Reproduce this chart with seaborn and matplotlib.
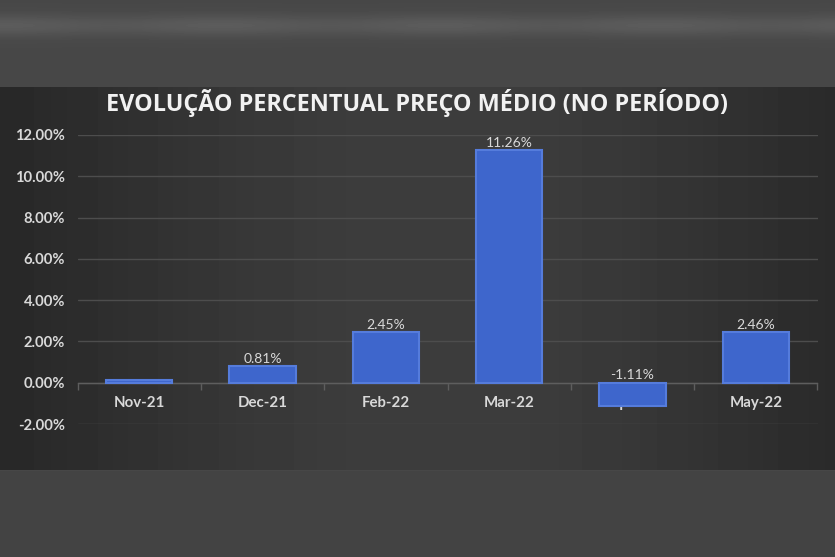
import numpy as np
import matplotlib
matplotlib.use("Agg")
import matplotlib.pyplot as plt
from matplotlib.ticker import FuncFormatter, FixedLocator
import seaborn as sns

# data (percent)
categories = ["Nov-21", "Dec-21", "Feb-22", "Mar-22", "Apr-22", "May-22"]
values = [0.12, 0.81, 2.45, 11.26, -1.11, 2.46]
show_label = [False, True, True, True, True, True]
title = "EVOLUÇÃO PERCENTUAL PREÇO MÉDIO (NO PERÍODO)"

sns.set_theme(style="dark")
plt.rcParams['font.family'] = ['Lato', 'DejaVu Sans']

W, H = 835, 557
fig = plt.figure(figsize=(W / 100, H / 100), dpi=100)
fig.patch.set_facecolor('#464646')

# background: blurred photo band on top, dark chart panel in the middle
bg = fig.add_axes([0, 0, 1, 1], zorder=-10)
bg.axis('off')
rows = np.arange(H)[:, None]
cols = np.arange(W)[None, :]
outside = 0.28 + 0.08 * np.exp(-((rows - 25) / 11.0) ** 2) * (0.75 + 0.25 * np.cos(cols / 70.0) ** 2)
outside = outside - 0.015 * (rows > 470)
panel = 0.15 + 0.09 * np.sin(np.pi * (cols + 60) / (W + 160)) ** 1.5 + 0.0 * rows
inpanel = (rows >= 87) & (rows <= 469)
img = np.where(inpanel, panel, outside)
bg.imshow(np.clip(img, 0, 1), cmap='gray', vmin=0, vmax=1, aspect='auto',
          extent=[0, 1, 0, 1], interpolation='bilinear')
bg.set_xlim(0, 1)
bg.set_ylim(0, 1)

ax = fig.add_axes([77.5 / W, 1 - 424 / H, 740 / W, 289 / H])
ax.patch.set_alpha(0)

sns.barplot(x=categories, y=values, color='#3e66cc', saturation=1, width=0.54,
            edgecolor='#557cdc', linewidth=1.5, ax=ax, zorder=3)

ax.set_xlim(-0.5, len(categories) - 0.5)
ax.set_ylim(-2, 12)
ax.set_yticks(np.arange(-2, 13, 2))
ax.yaxis.set_major_formatter(FuncFormatter(lambda v, p: f"{v:.2f}%"))
ax.set_xlabel("")
ax.set_ylabel("")

ax.set_axisbelow(True)
ax.yaxis.grid(True, color='#4d4d4d', lw=1)
ax.xaxis.grid(False)
for s in ['top', 'right', 'left']:
    ax.spines[s].set_visible(False)
ax.spines['bottom'].set_position(('data', 0))
ax.spines['bottom'].set_color('#5e5e5e')
ax.spines['bottom'].set_linewidth(1)

ax.xaxis.set_minor_locator(FixedLocator(np.arange(-0.5, len(categories), 1.0)))
ax.tick_params(axis='x', which='major', length=0, pad=9.5, labelsize=10.8, labelcolor='#d9d9d9')
ax.tick_params(axis='x', which='minor', length=5, width=1, color='#5e5e5e', direction='out', bottom=True)
ax.tick_params(axis='y', length=0, pad=9, labelsize=10.6, labelcolor='#d9d9d9')
for lab in ax.get_xticklabels() + ax.get_yticklabels():
    lab.set_fontweight('bold')

for i, v in enumerate(values):
    if show_label[i]:
        ax.text(i, max(v, 0) + 0.06, f"{v:.2f}%", ha='center', va='bottom',
                color='#d9d9d9', fontsize=10, zorder=4)

fig.text(0.5, 1 - 103 / H, title, ha='center', va='center', color='#f2f2f2',
         fontsize=16.8, fontweight='bold', family=['Open Sans', 'DejaVu Sans'])

fig.savefig('out.png', dpi=100)
